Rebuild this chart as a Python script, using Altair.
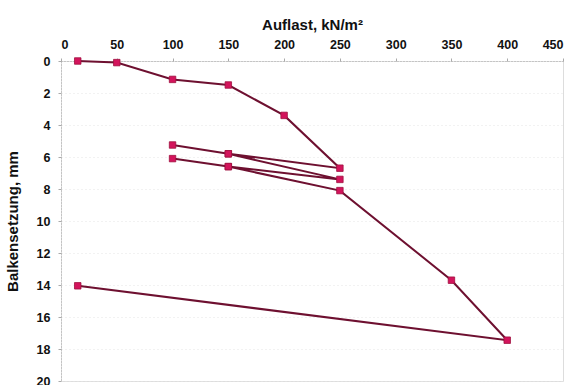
import altair as alt
import pandas as pd

# Load path of the beam test: loading, two unload/reload cycles, final unload
load_kn_m2 = [15, 50, 100, 150, 200, 250, 150, 100, 150, 250, 150, 100, 150, 250, 350, 400, 15]
settlement_mm = [0.0, 0.1, 1.15, 1.5, 3.4, 6.7, 5.8, 5.25, 5.8, 7.4, 6.6, 6.1, 6.6, 8.1, 13.7, 17.45, 14.05]

x_ticks = [0, 50, 100, 150, 200, 250, 300, 350, 400, 450]
y_ticks = [0, 2, 4, 6, 8, 10, 12, 14, 16, 18, 20]

df = pd.DataFrame({
    "step": list(range(len(load_kn_m2))),
    "load": load_kn_m2,
    "settlement": settlement_mm,
})

FONT = "Liberation Sans"

x_enc = alt.X(
    "load:Q",
    scale=alt.Scale(domain=[0, 450], nice=False, zero=False),
    axis=alt.Axis(
        orient="top", values=x_ticks, title="Auflast, kN/m²",
        titleFontSize=15, titleFont=FONT, titleFontWeight="bold", titleColor="#111",
        titlePadding=6,
        labelFontSize=12.5, labelFont=FONT, labelFontWeight="bold", labelColor="#111",
        labelPadding=7, tickSize=3, tickColor="#aaa", labelOverlap=False,
        domainColor="#aaa", domainDash=[1, 2], grid=False,
    ),
)
y_enc = alt.Y(
    "settlement:Q",
    scale=alt.Scale(domain=[0, 20], reverse=True, nice=False),
    axis=alt.Axis(
        orient="left", values=y_ticks, title="Balkensetzung, mm",
        titleFontSize=15, titleFont=FONT, titleFontWeight="bold", titleColor="#111",
        titlePadding=16,
        labelFontSize=12.5, labelFont=FONT, labelFontWeight="bold", labelColor="#111",
        labelPadding=8, tickSize=3, tickColor="#aaa", labelOverlap=False,
        labelFlush=False, labelBound=False,
        domainColor="#aaa", domainDash=[1, 2],
        grid=True, gridColor="#e4e4e4", gridDash=[1, 3],
    ),
)

base = alt.Chart(df).encode(x=x_enc, y=y_enc, order="step:Q")

line = base.mark_line(color="#6e1030", strokeWidth=2)
points = base.mark_point(
    shape="square", filled=True, size=42, color="#d3145c", opacity=1,
    stroke="#a0103f", strokeWidth=0.8,
)

chart = (
    alt.layer(line, points)
    .properties(
        width=502, height=320,
        autosize=alt.AutoSizeParams(type="none"),
        padding={"left": 61, "top": 61, "right": 11, "bottom": 4},
    )
    .configure_axis(labelOverlap=False)
    .configure_view(stroke="#aaa", strokeDash=[1, 2], strokeWidth=1)
    .configure(background="white")
)

chart.save("out.html", embed_options={"renderer": "svg", "actions": False})
